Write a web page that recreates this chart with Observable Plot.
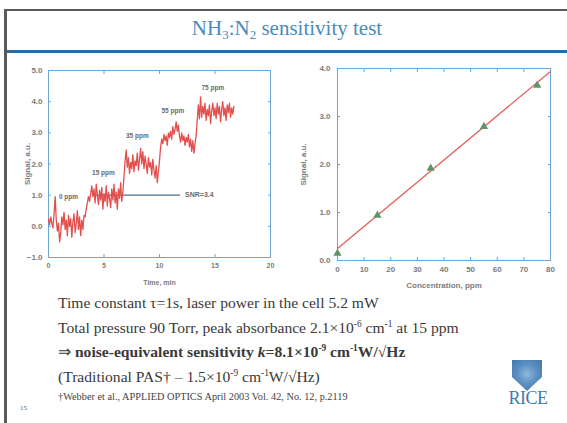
<!DOCTYPE html>
<html><head><meta charset="utf-8">
<script src="https://cdn.jsdelivr.net/npm/d3@7"></script>
<script src="https://cdn.jsdelivr.net/npm/@observablehq/plot@0.6"></script>
<style>
body{margin:0;background:#fff;}
#slide{position:relative;width:567px;height:423px;overflow:hidden;background:#fff;font-family:"Liberation Serif","Times New Roman",serif;color:#333;}
.abs{position:absolute;}
#title{left:7px;width:560px;top:14px;text-align:center;font-size:21px;color:#4a8bbd;line-height:28px;}
#title sub{font-size:0.62em;vertical-align:baseline;position:relative;top:0.3em;}
.line{left:58px;font-size:15.6px;line-height:20px;white-space:nowrap;color:#3a3a3a;}
.line sup{font-size:0.6em;vertical-align:baseline;position:relative;top:-0.6em;}
#foot{left:58px;top:391px;font-size:10.3px;white-space:nowrap;color:#444;}
#pg{left:20px;top:404px;font-size:7px;color:#555;}
#shield{left:512px;top:360px;width:30px;height:31px;background:radial-gradient(circle at 50% 45%,#8fb7dc 0%,#5a8fc2 45%,#3d73a8 100%);clip-path:polygon(0 0,100% 0,100% 55%,50% 100%,0 55%);}
#rice{left:503px;top:388px;width:50px;text-align:center;font-size:18px;color:#3f7ab2;letter-spacing:-0.5px;}
</style></head>
<body><div id="slide">
<div class="abs" style="left:4px;top:9px;width:563px;height:2px;background:#5a5a5a"></div>
<div class="abs" style="left:4px;top:9px;width:3px;height:414px;background:#5a5a5a"></div>
<div class="abs" style="left:7px;top:50px;width:560px;height:3px;background:#2f6a9c"></div>
<div id="title" class="abs">NH<sub>3</sub>:N<sub>2</sub> sensitivity test</div>
<div id="left" class="abs" style="left:0px;top:60px"></div>
<div id="right" class="abs" style="left:295px;top:58px"></div>
<div class="abs line" style="top:293px">Time constant τ=1s, laser power in the cell 5.2 mW</div>
<div class="abs line" style="top:318px">Total pressure 90 Torr, peak absorbance 2.1×10<sup>-6</sup> cm<sup>-1</sup> at 15 ppm</div>
<div class="abs line" style="top:342px">⇒ <b>noise-equivalent sensitivity <i>k</i>=8.1×10<sup>-9</sup> cm<sup>-1</sup>W/√Hz</b></div>
<div class="abs line" style="top:367px">(Traditional PAS† – 1.5×10<sup>-9</sup> cm<sup>-1</sup>W/√Hz)</div>
<div id="foot" class="abs">†Webber et al., APPLIED OPTICS April 2003 Vol. 42, No. 12, p.2119</div>
<div id="pg" class="abs">15</div>
<div id="shield" class="abs"></div>
<div id="rice" class="abs">RICE</div>
</div>
<script>
// ---- Left panel: signal vs time ----
const timeStart = 0, timeStep = 0.1;
const signalSeries = [
 0.25,0.05,0.30,0.10,-0.05,0.40,0.95,0.20,-0.15,0.10,
 -0.50,-0.20,0.30,0.05,0.45,-0.10,0.20,-0.30,0.35,0.00,
 0.25,-0.35,0.15,0.40,-0.20,0.10,0.50,-0.10,0.30,-0.30,
 0.20,-0.10,0.35,0.30,0.55,0.75,0.95,0.80,1.05,1.30,
 0.95,1.20,0.75,1.35,1.00,0.70,1.15,0.85,1.25,0.55,
 1.05,0.80,1.30,0.65,1.10,0.90,0.60,1.20,0.85,1.35,
 0.75,1.10,0.55,1.20,0.90,1.40,0.80,1.10,1.60,2.10,
 2.45,1.90,2.20,1.70,2.05,1.85,2.30,1.75,2.10,1.95,
 2.35,1.80,2.15,2.50,2.00,2.40,1.85,2.25,2.00,1.70,
 2.20,1.90,2.05,1.65,2.15,1.80,1.55,1.95,1.40,1.75,
 2.10,2.55,2.80,2.65,2.95,2.75,2.90,2.60,3.00,2.85,
 3.05,2.80,3.20,2.95,3.10,3.35,3.05,3.25,2.90,2.70,
 3.00,2.75,2.90,2.60,2.85,2.70,2.95,2.55,2.80,2.40,
 2.75,2.35,2.65,2.90,3.40,3.90,3.45,4.15,3.50,3.85,
 3.60,3.95,3.40,3.75,3.55,3.90,3.30,3.70,3.95,3.55,
 3.80,3.45,3.95,3.60,3.85,3.35,3.75,4.00,3.55,3.80,
 3.40,3.90,3.65,3.95,3.50,3.80,3.60,3.85
];
const stepLabels = ["0 ppm","15 ppm","35 ppm","55 ppm","75 ppm"];
const stepLabelTime = [1.8, 4.95, 8.0, 11.2, 14.8];
const stepLabelSignal = [0.95, 1.7, 2.9, 3.7, 4.45];
const snrLevel = [1.0];
const snrFrom = [4.0];
const snrTo = [11.9];
const snrText = ["SNR=3.4"];
const snrTextTime = [12.3];
const timeTicks = [0,5,10,15,20];
const signalTicks = [-1,0,1,2,3,4,5];

// ---- Right panel: calibration ----
const concentrations = [0,15,35,55,75];
const calSignal = [0.15,0.94,1.92,2.79,3.65];
const fitConc = [0,80];
const fitSignal = [0.25,3.94];
const concTicks = [0,10,20,30,40,50,60,70,80];
const calTicks = [0,1,2,3,4];

const frameBlue = "#6aa6d6";
const tickGrey = "#7c7c7c";
const baseStyle = {background:"transparent", fontFamily:"Arial, 'Liberation Sans', sans-serif", fontSize:"8px", color:tickGrey, overflow:"visible"};
const fmt1 = d3.format(".1f");

function innerAxes(xt, yt) {
  const o = {tickSize:-3, tickFormat:()=>"", stroke:frameBlue, label:null};
  return [
    Plot.axisX(xt, {...o, anchor:"bottom"}),
    Plot.axisX(xt, {...o, anchor:"top"}),
    Plot.axisY(yt, {...o, anchor:"left"}),
    Plot.axisY(yt, {...o, anchor:"right"})
  ];
}

const series = signalSeries.map((v,i)=>({t: timeStart + i*timeStep, v}));
const labels = stepLabels.map((s,i)=>({s, t: stepLabelTime[i], v: stepLabelSignal[i]}));
const snr = snrLevel.map((v,i)=>({v, a: snrFrom[i], b: snrTo[i], s: snrText[i], tt: snrTextTime[i]}));

const left = Plot.plot({
  width:285, height:230, marginLeft:48, marginRight:15, marginTop:10, marginBottom:33,
  x:{domain:[0,20]}, y:{domain:[-1,5]},
  style: baseStyle,
  marks:[
    Plot.axisX(timeTicks, {anchor:"bottom", tickSize:0, tickPadding:6, fontWeight:"bold", fill:tickGrey, label:"Time, min", labelAnchor:"center", labelOffset:27, labelArrow:"none", fontSize:7}),
    Plot.axisY(signalTicks, {anchor:"left", tickSize:0, tickPadding:6, fontWeight:"bold", fill:tickGrey, tickFormat:fmt1, label:"Signal, a.u.", labelAnchor:"center", labelOffset:24, labelArrow:"none"}),
    ...innerAxes(timeTicks, signalTicks),
    Plot.frame({stroke:frameBlue}),
    Plot.ruleY(snr, {y:"v", x1:"a", x2:"b", stroke:"#4f6e84", strokeWidth:1.2}),
    Plot.line(series, {x:"t", y:"v", stroke:"#e2504e", strokeWidth:1.3}),
    Plot.text(labels, {x:"t", y:"v", text:"s", fontSize:6.5, fontWeight:"bold", fill:"#6a6a6a"}),
    Plot.text(snr, {x:"tt", y:"v", text:"s", textAnchor:"start", fontSize:7, fontWeight:"bold", fill:"#6a6a6a"})
  ]
});
document.getElementById("left").appendChild(left);

const pts = concentrations.map((c,i)=>({c, s: calSignal[i]}));
const fit = fitConc.map((c,i)=>({c, s: fitSignal[i]}));
const right = Plot.plot({
  width:270, height:235, marginLeft:42, marginRight:15, marginTop:10, marginBottom:33,
  x:{domain:[0,80]}, y:{domain:[0,4]},
  style: baseStyle,
  marks:[
    Plot.axisX(concTicks, {anchor:"bottom", tickSize:0, tickPadding:6, fontWeight:"bold", fill:tickGrey, label:"Concentration, ppm", labelAnchor:"center", labelOffset:27, labelArrow:"none"}),
    Plot.axisY(calTicks, {anchor:"left", tickSize:0, tickPadding:7, fontWeight:"bold", fill:tickGrey, tickFormat:fmt1, label:"Signal, a.u.", labelAnchor:"center", labelOffset:37, labelArrow:"none"}),
    ...innerAxes(concTicks, calTicks),
    Plot.frame({stroke:frameBlue}),
    Plot.line(fit, {x:"c", y:"s", stroke:"#e06060", strokeWidth:1.3}),
    Plot.dot(pts, {x:"c", y:"s", symbol:"triangle", r:2.1, fill:"#5d9468", stroke:"#5d9468"})
  ]
});
document.getElementById("right").appendChild(right);
</script>
</body></html>
